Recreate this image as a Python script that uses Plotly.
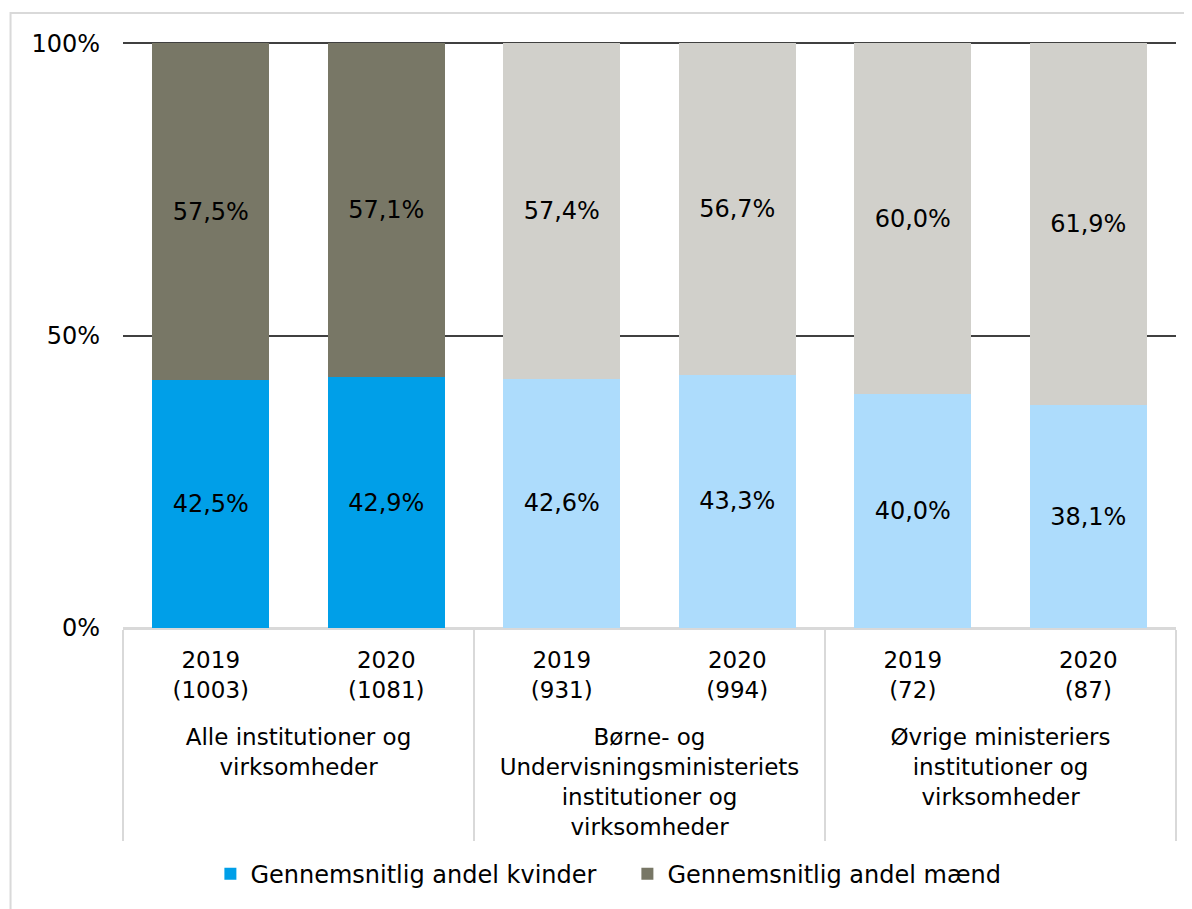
import plotly.graph_objects as go

groups = [
    "<br>Alle institutioner og<br>virksomheder",
    "<br>Børne- og<br>Undervisningsministeriets<br>institutioner og<br>virksomheder",
    "<br>Øvrige ministeriers<br>institutioner og<br>virksomheder",
]
bar_groups = [groups[0], groups[0], groups[1], groups[1], groups[2], groups[2]]
bar_years = ["2019<br>(1003)", "2020<br>(1081)", "2019<br>(931)", "2020<br>(994)", "2019<br>(72)", "2020<br>(87)"]

kvinder = [42.5, 42.9, 42.6, 43.3, 40.0, 38.1]
maend = [57.5, 57.1, 57.4, 56.7, 60.0, 61.9]

y_ticks = [0, 50, 100]
y_ticktext = ["0%", "50%", "100%"]

kvinder_colors = ["#009FE8", "#009FE8", "#ADDCFC", "#ADDCFC", "#ADDCFC", "#ADDCFC"]
maend_colors = ["#787766", "#787766", "#D1D0CB", "#D1D0CB", "#D1D0CB", "#D1D0CB"]

FONT = "DejaVu Sans, Verdana, sans-serif"
FS = 24


def fmt(v):
    return f"{v:.1f}".replace(".", ",") + "%"


fig = go.Figure()
fig.add_trace(go.Bar(
    x=[bar_groups, bar_years], y=kvinder, name="Gennemsnitlig andel kvinder",
    marker=dict(color=kvinder_colors, line=dict(width=0)),
    text=[fmt(v) for v in kvinder], textposition="inside", insidetextanchor="middle",
    textfont=dict(color="black", size=FS, family=FONT), textangle=0,
))
fig.add_trace(go.Bar(
    x=[bar_groups, bar_years], y=maend, name="Gennemsnitlig andel mænd",
    marker=dict(color=maend_colors, line=dict(width=0)),
    text=[fmt(v) for v in maend], textposition="inside", insidetextanchor="middle",
    textfont=dict(color="black", size=FS, family=FONT), textangle=0,
))

fig.update_layout(
    barmode="stack",
    bargap=0.335,
    width=1184, height=901,
    margin=dict(l=115, r=16, t=34, b=279),
    plot_bgcolor="white", paper_bgcolor="white",
    font=dict(family=FONT, size=FS, color="black"),
    showlegend=True,
    legend=dict(orientation="h", x=0.479, xanchor="center", y=-0.42, yanchor="middle",
                entrywidth=372, entrywidthmode="pixels",
                font=dict(size=FS, family=FONT), traceorder="normal"),
    xaxis=dict(
        type="multicategory", showline=True, linecolor="#D9D9D9", linewidth=2,
        showdividers=True, dividercolor="#D9D9D9", dividerwidth=2,
        ticks="", showgrid=False, tickfont=dict(size=23, family=FONT),
        ticklabelstandoff=10,
    ),
    yaxis=dict(
        range=[0, 100.25], tickvals=y_ticks, ticktext=y_ticktext,
        showgrid=True, gridcolor="#404040", gridwidth=1.5,
        zeroline=True, zerolinecolor="#D9D9D9", zerolinewidth=2,
        showline=False, ticks="", ticklabelstandoff=22,
        tickfont=dict(size=FS, family=FONT),
    ),
    shapes=[dict(type="rect", xref="paper", yref="paper",
                 x0=-0.1068, x1=1.03, y0=-0.49, y1=1.0494,
                 line=dict(color="#D9D9D9", width=2), fillcolor="rgba(0,0,0,0)", layer="below")],
)

fig.write_html("out.html")
